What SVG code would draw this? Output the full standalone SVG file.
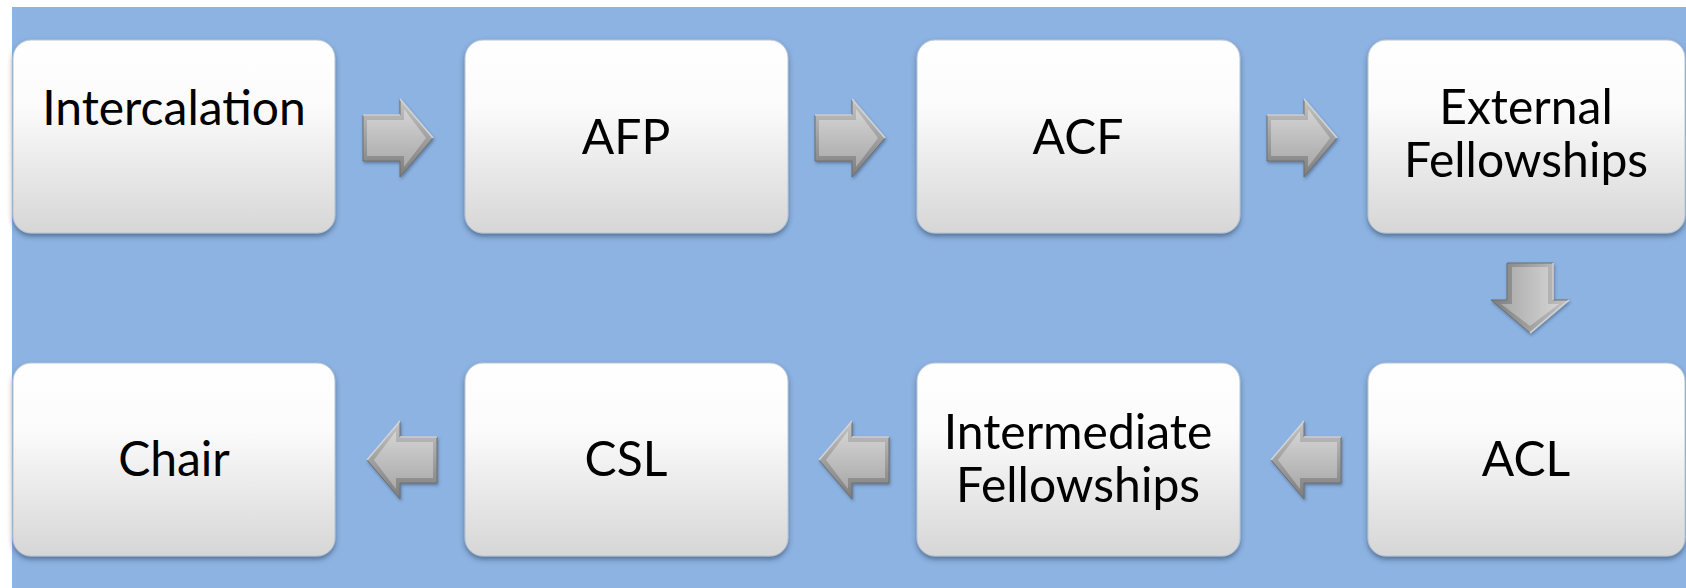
<svg xmlns="http://www.w3.org/2000/svg" width="1686" height="588" viewBox="0 0 1686 588">
  <defs>
    <linearGradient id="boxGrad" x1="0" y1="0" x2="0" y2="1">
      <stop offset="0" stop-color="#ffffff"/>
      <stop offset="0.35" stop-color="#fbfbfb"/>
      <stop offset="1" stop-color="#d6d6d6"/>
    </linearGradient>
    <linearGradient id="arrOuter" x1="0" y1="0" x2="0" y2="1">
      <stop offset="0" stop-color="#c4c4c4"/>
      <stop offset="1" stop-color="#7d7d7d"/>
    </linearGradient>
    <linearGradient id="arrInner" x1="0" y1="0" x2="0" y2="1">
      <stop offset="0" stop-color="#d4d4d4"/>
      <stop offset="1" stop-color="#a9a9a9"/>
    </linearGradient>
    <filter id="shadow" x="-5%" y="-5%" width="110%" height="115%">
      <feDropShadow dx="0" dy="3" stdDeviation="2.5" flood-color="#2a3f5c" flood-opacity="0.55"/>
    </filter>
    <filter id="ashadow" x="-10%" y="-10%" width="130%" height="130%">
      <feDropShadow dx="1" dy="2" stdDeviation="1.5" flood-color="#2a3f5c" flood-opacity="0.45"/>
    </filter>
    <g id="arrow">
      <path d="M0,-23 H37 V-39 L70,0 L37,39 V23 H0 Z" fill="url(#arrOuter)" stroke="#6e6e6e" stroke-width="1"/>
      <path d="M4,-18 H41 V-29 L63,0 L41,29 V18 H4 Z" fill="url(#arrInner)"/>
      <path d="M0,-23 H37 M37,-39 L70,0" fill="none" stroke="#e8e8e8" stroke-width="1.5" opacity="0.8"/>
    </g>
  </defs>
  <style>
    .box { fill: url(#boxGrad); stroke: #b8c4d2; stroke-width: 1; filter: url(#shadow); }
    .lbl { font-family: Lato, "Liberation Sans", sans-serif; font-size: 48px; fill: #000000; text-anchor: middle; }
  </style>

  <rect x="0" y="0" width="1686" height="588" fill="#ffffff"/>
  <rect x="12" y="7" width="1674" height="581" fill="#8db3e2"/>

  <g id="connectors" filter="url(#ashadow)">
    <use href="#arrow" transform="translate(363,138)"/>
    <use href="#arrow" transform="translate(815,138)"/>
    <use href="#arrow" transform="translate(1267,138)"/>
    <use href="#arrow" transform="translate(1530,263) rotate(90)"/>
    <use href="#arrow" transform="translate(1341,460) scale(-1,1)"/>
    <use href="#arrow" transform="translate(889,460) scale(-1,1)"/>
    <use href="#arrow" transform="translate(437,460) scale(-1,1)"/>
  </g>

  <g id="node-intercalation">
    <rect class="box" x="13" y="40" width="322" height="193" rx="18"/>
    <text class="lbl" x="174" y="125">Intercalation</text>
  </g>
  <g id="node-afp">
    <rect class="box" x="465" y="40" width="323" height="193" rx="18"/>
    <text class="lbl" x="626" y="154">AFP</text>
  </g>
  <g id="node-acf">
    <rect class="box" x="917" y="40" width="323" height="193" rx="18"/>
    <text class="lbl" x="1078" y="154">ACF</text>
  </g>
  <g id="node-external">
    <rect class="box" x="1368" y="40" width="317" height="193" rx="18"/>
    <text class="lbl" x="1526" y="124">External</text>
    <text class="lbl" x="1526" y="177">Fellowships</text>
  </g>
  <g id="node-acl">
    <rect class="box" x="1368" y="363" width="317" height="193" rx="18"/>
    <text class="lbl" x="1526" y="476">ACL</text>
  </g>
  <g id="node-intermediate">
    <rect class="box" x="917" y="363" width="323" height="193" rx="18"/>
    <text class="lbl" x="1078" y="449">Intermediate</text>
    <text class="lbl" x="1078" y="502">Fellowships</text>
  </g>
  <g id="node-csl">
    <rect class="box" x="465" y="363" width="323" height="193" rx="18"/>
    <text class="lbl" x="626" y="476">CSL</text>
  </g>
  <g id="node-chair">
    <rect class="box" x="13" y="363" width="322" height="193" rx="18"/>
    <text class="lbl" x="174" y="476">Chair</text>
  </g>
</svg>
